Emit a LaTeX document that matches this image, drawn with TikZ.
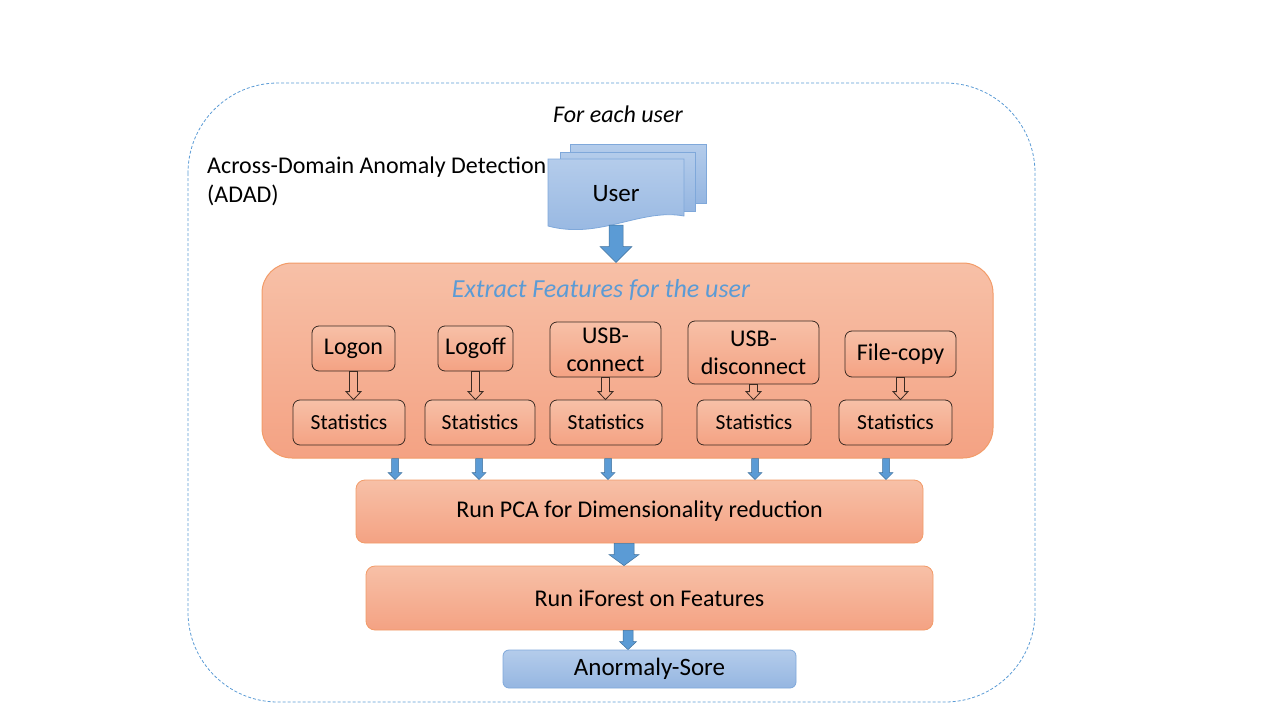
\documentclass[tikz,border=0pt]{standalone}
\usepackage{fontspec}
\setmainfont{Carlito}
\usetikzlibrary{calc}
\definecolor{orangeTop}{HTML}{F7C0A7}
\definecolor{orangeBot}{HTML}{F4A283}
\definecolor{orangeEdge}{HTML}{F29B68}
\definecolor{blueTop}{HTML}{B4CCEB}
\definecolor{blueBot}{HTML}{95B6E1}
\definecolor{blueEdge}{HTML}{7FA8DA}
\definecolor{arrowBlue}{HTML}{5B9BD5}
\definecolor{arrowEdge}{HTML}{41719C}
\definecolor{titleBlue}{HTML}{5B9BD5}
\definecolor{darkEdge}{HTML}{3A2A22}

% block arrow: [style]{start}{tip}{shaft half width}{head half width}{head length}
\newcommand{\blockarrow}[6][]{%
  \draw[#1] ($#2+(-#4,0)$) -- ($#3+(-#4,-#6)$) -- ($#3+(-#5,-#6)$) -- #3
    -- ($#3+(#5,-#6)$) -- ($#3+(#4,-#6)$) -- ($#2+(#4,0)$) -- cycle;}

\begin{document}
\begin{tikzpicture}[
  x=1pt, y=-1pt,
  font=\fontsize{24}{28}\selectfont,
  stage/.style={rectangle, rounded corners=9pt, draw=orangeEdge, line width=0.8pt,
                top color=orangeTop, bottom color=orangeBot, text=black, align=center,
                inner sep=0pt},
  eventbox/.style={stage, draw=darkEdge, rounded corners=7pt, font=\fontsize{24}{28}\selectfont},
  statbox/.style={eventbox, minimum height=45pt, font=\fontsize{21.5}{25}\selectfont},
  scorebox/.style={stage, draw=blueEdge, top color=blueTop, bottom color=blueBot,
                   rounded corners=6pt},
  docpage/.style={draw=blueEdge, line width=0.8pt, top color=blueTop, bottom color=blueBot},
  bluearrow/.style={fill=arrowBlue, draw=arrowEdge, line width=0.5pt},
  hollowarrow/.style={draw=darkEdge, line width=0.8pt}
]
  \useasboundingbox (0,0) rectangle (1280,720);

  % --- dashed plate for each user ---
  \draw[draw=arrowBlue, line width=0.8pt, dash pattern=on 3pt off 2pt, rounded corners=90pt]
    (188,83) rectangle (1035,702);
  \node[font=\fontsize{24}{28}\selectfont\itshape] (foreach) at (618,114) {For each user};
  \node[anchor=north west, align=left, inner sep=0pt, font=\fontsize{24}{29}\selectfont]
    (adad) at (207,157) {Across-Domain Anomaly Detection\\(ADAD)};

  % --- stacked user documents ---
  \draw[docpage] (570,144) rectangle (706,203);
  \draw[docpage] (560,152) rectangle (695,211);
  \draw[docpage] (548,159) -- (684,159) -- (684,216)
    .. controls (640,208) and (600,240) .. (548,226) -- cycle;
  \node[minimum height=62pt, minimum width=136pt, font=\fontsize{25}{29}\selectfont]
    (user) at (616,194) {User};

  % --- feature extraction block ---
  \node[stage, rounded corners=30pt, line width=1pt, minimum width=731pt, minimum height=195pt]
    (extract) at (627.5,360.5) {};
  \node[font=\fontsize{26}{30}\selectfont\itshape, text=titleBlue] (extitle) at (601,290)
    {Extract Features for the user};

  % top row: event types
  \node[eventbox, minimum width=83pt, minimum height=45pt] (logon)  at (353.5,348.5) {Logon};
  \node[eventbox, minimum width=75pt, minimum height=45pt] (logoff) at (475.5,348.5) {Logoff};
  \node[eventbox, minimum width=111pt, minimum height=55pt] (usbc)  at (605.5,349.5) {USB-\\connect};
  \node[eventbox, minimum width=131pt, minimum height=63pt] (usbd)  at (753.5,352.5) {USB-\\disconnect};
  \node[eventbox, minimum width=111pt, minimum height=46pt] (fcopy) at (900.5,354)   {File-copy};

  % bottom row: statistics
  \node[statbox, minimum width=112pt] (st1) at (349,422.5)   {Statistics};
  \node[statbox, minimum width=110pt] (st2) at (480,422.5)   {Statistics};
  \node[statbox, minimum width=112pt] (st3) at (606,422.5)   {Statistics};
  \node[statbox, minimum width=114pt] (st4) at (754,422.5)   {Statistics};
  \node[statbox, minimum width=113pt] (st5) at (895.5,422.5) {Statistics};

  % --- pipeline ---
  \node[stage, minimum width=567pt, minimum height=63pt] (pca) at (639.5,511.5)
    {Run PCA for Dimensionality reduction};
  \node[stage, minimum width=567pt, minimum height=64pt] (iforest) at (649.5,598)
    {Run iForest on Features};
  \node[scorebox, minimum width=293pt, minimum height=38pt, font=\fontsize{25}{29}\selectfont]
    (score) at (649.5,669) {Anormaly-Sore};

  % --- arrows ---
  \blockarrow[bluearrow]{(user.south)}{(extract.north -| user.south)}{7}{16}{16}
  \foreach \ev/\st in {logon/st1, logoff/st2, usbc/st3, usbd/st4, fcopy/st5}
    \blockarrow[hollowarrow]{(\ev.south)}{(\ev.south |- \st.north)}{4}{7.5}{8};

  \coordinate (d1) at (395,470);
  \coordinate (d2) at (479,470);
  \coordinate (d3) at (608,470);
  \coordinate (d4) at (755,470);
  \coordinate (d5) at (886,470);
  \foreach \d in {d1, d2, d3, d4, d5}
    \blockarrow[bluearrow]{(extract.south -| \d)}{(pca.north -| \d)}{3.5}{7}{7};

  \coordinate (d6) at (624,555);
  \coordinate (d7) at (628,640);
  \blockarrow[bluearrow]{(pca.south -| d6)}{(iforest.north -| d6)}{10}{15}{11}
  \blockarrow[bluearrow]{(iforest.south -| d7)}{(score.north -| d7)}{5}{8.5}{8}

\end{tikzpicture}
\end{document}
